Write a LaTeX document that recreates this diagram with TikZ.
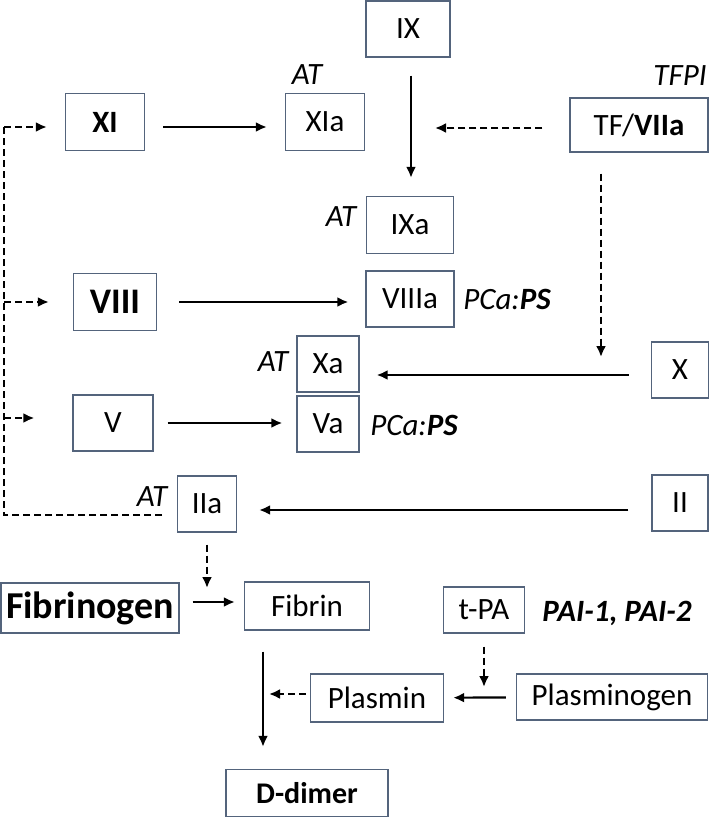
\documentclass[tikz,border=0pt]{standalone}
\usepackage{fontspec}
\setmainfont{Carlito}
\usetikzlibrary{arrows.meta,calc}
\definecolor{boxline}{RGB}{84,100,124}
\tikzset{x=1pt, y=-1pt, % One unit is one pixel of the figure, y runs downwards
        every node/.style={font=\fontsize{31}{36}\selectfont},
        factor/.style={ % Sets the properties for each factor box
            draw=boxline,
            line width=1.3pt,
            inner sep=0pt},
        inhib/.style={ % Inhibitor labels next to the boxes
            font=\fontsize{31}{36}\selectfont\itshape},
        every edge/.style={ % Sets the properties for each conversion
            draw,
            ->,>={Latex[length=11pt,width=10pt]}, % Directed edges with triangular heads
            line width=2.2pt,
            shorten <=18pt,
            shorten >=18pt},
        act/.style={ % Activation paths are dashed
            dashed,
            dash pattern=on 7pt off 4pt,
            line width=1.8pt,
            >={Latex[length=10pt,width=9pt]}}
        }

\begin{document}
\begin{tikzpicture}
    \useasboundingbox (0,0) rectangle (709,818);

    % intrinsic and extrinsic factors
    \node[factor, minimum width=84, minimum height=56] (IX) at (408,29) {IX};
    \node[factor, minimum width=79, minimum height=57] (XI) at (105,122) {\textbf{XI}};
    \node[factor, minimum width=79, minimum height=57] (XIa) at (325,122) {XIa};
    \node[factor, minimum width=138, minimum height=54] (TF) at (639,125) {TF/\textbf{VIIa}};
    \node[factor, minimum width=87, minimum height=57] (IXa) at (410,225) {IXa};
    \node[factor, minimum width=83, minimum height=57, font=\fontsize{36}{40}\selectfont\bfseries] (VIII) at (115,302) {VIII};
    \node[factor, minimum width=88, minimum height=56] (VIIIa) at (410,299) {VIIIa};
    \node[factor, minimum width=62, minimum height=56] (Xa) at (328,364) {Xa};
    \node[factor, minimum width=57, minimum height=56] (X) at (680,370) {X};
    \node[factor, minimum width=80, minimum height=56] (V) at (113,423) {V};
    \node[factor, minimum width=62, minimum height=56] (Va) at (328,424) {Va};
    \node[factor, minimum width=59, minimum height=56] (IIa) at (207,504) {IIa};
    \node[factor, minimum width=56, minimum height=56] (II) at (680,503) {II};

    % fibrin and fibrinolysis
    \node[factor, minimum width=178, minimum height=50, font=\fontsize{38}{42}\selectfont\bfseries] (fibrinogen) at (90,608) {Fibrinogen};
    \node[factor, minimum width=125, minimum height=48] (fibrin) at (307,606) {Fibrin};
    \node[factor, minimum width=81, minimum height=46] (tpa) at (484,610) {t-PA};
    \node[factor, minimum width=191, minimum height=46] (plasminogen) at (612,697) {Plasminogen};
    \node[factor, minimum width=133, minimum height=48] (plasmin) at (377,698) {Plasmin};
    \node[factor, minimum width=162, minimum height=47, font=\fontsize{30}{36}\selectfont\bfseries] (ddimer) at (307,793) {D-dimer};

    % inhibitors
    \node[inhib] (atXIa) at (307,75) {AT};
    \node[inhib] (tfpi) at (680,76) {TFPI};
    \node[inhib] (atIXa) at (341,217) {AT};
    \node[inhib] (pcaVIIIa) at (507,299) {PCa:\textbf{PS}};
    \node[inhib] (atXa) at (273,362) {AT};
    \node[inhib] (pcaVa) at (414,425) {PCa:\textbf{PS}};
    \node[inhib] (atIIa) at (152,497) {AT};
    \node[inhib, font=\fontsize{31}{36}\selectfont\bfseries\itshape] (pai) at (617,613) {PAI-1, PAI-2};

    % points on the conversion arrows
    \coordinate (onIX) at (411,128);
    \coordinate (onX) at (601,375);
    \coordinate (onII) at (600,510);
    \coordinate (onfib) at (207,602);
    \coordinate (onpl) at (484,698);
    \coordinate (fd) at (263,700);
    \coordinate (lb) at (162,515);
    \coordinate (lc) at (4,515);
    \coordinate (lt) at (4,127);

    \draw
        (XI.east |- lt) edge (XIa.west |- lt)
        (IX.south -| onIX) edge (IXa.north -| onIX)
        (VIII.east) edge [shorten <=22pt, shorten >=17pt] (VIIIa.west |- VIII.east)
        (X.west |- onX) edge [shorten <=22pt, shorten >=17pt] (Xa.east |- onX)
        (V.east) edge [shorten <=14pt, shorten >=14pt] (Va.west |- V.east)
        (II.west |- onII) edge [shorten <=23pt, shorten >=22pt] (IIa.east |- onII)
        (fibrinogen.east |- onfib) edge [shorten <=13pt, shorten >=9pt] (fibrin.west |- onfib)
        (plasminogen) edge [shorten <=10pt, shorten >=9pt] (plasmin)
        (fd |- fibrin.south) edge [shorten <=21pt, shorten >=22pt] (fd |- ddimer.north);

    \draw[act]
        (TF.west |- onIX) edge [shorten <=27pt, shorten >=24pt] (onIX)
        (TF.south -| onX) edge [shorten <=21pt, shorten >=18pt] (onX)
        (IIa.south) edge [shorten <=12pt, shorten >=14pt] (onfib)
        (tpa.south) edge [shorten <=13pt, shorten >=11pt] (onpl)
        ($(plasmin.west)+(0,-4)$) edge [shorten <=4pt, shorten >=6pt] ($(plasmin.west -| fd)+(0,-4)$);

    % feedback of thrombin
    \draw[act, line cap=butt] (lb) -- (lc) -- (lt);
    \draw[act]
        (lt) edge [shorten <=0pt, shorten >=18pt] (lt -| XI.west)
        (lc |- VIII) edge [shorten <=0pt, shorten >=24pt] (VIII.west)
        ($(lc |- V)+(0,-5)$) edge [shorten <=0pt, shorten >=38pt] ($(V.west)+(0,-5)$);
\end{tikzpicture}
\end{document}
